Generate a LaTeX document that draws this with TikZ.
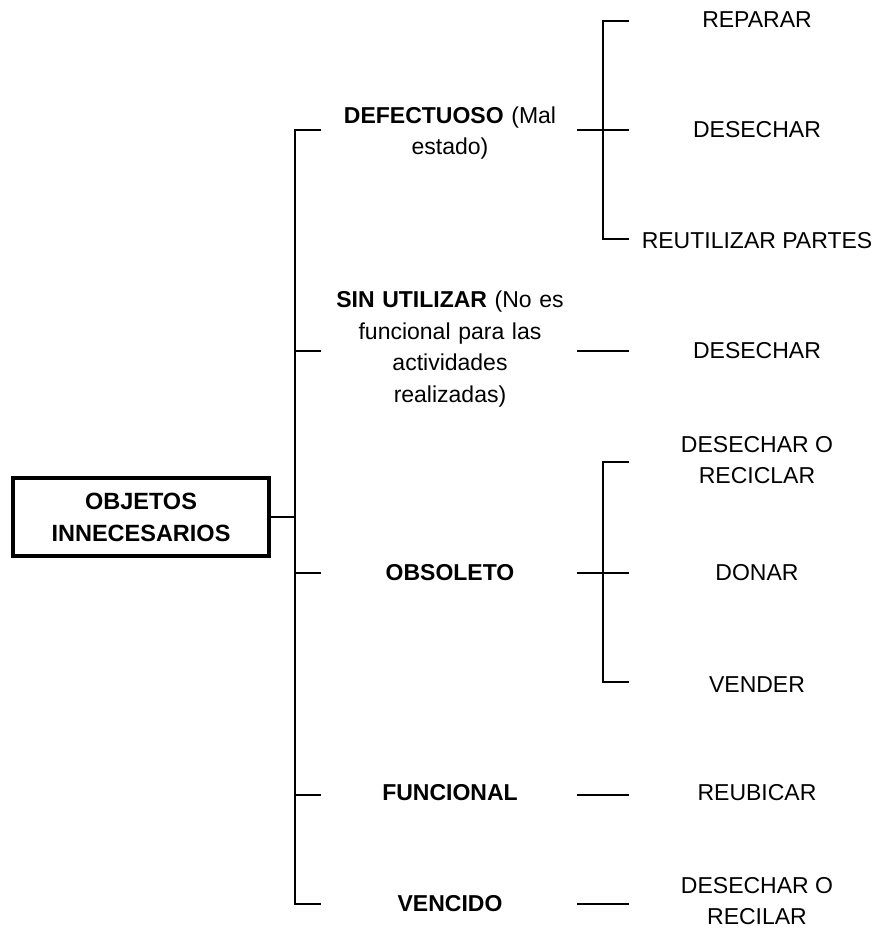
\documentclass[tikz,border=0pt]{standalone}
\usepackage{fontspec}
\setmainfont{Liberation Sans}
\begin{document}
\begin{tikzpicture}[x=1pt,y=-1pt,
  every node/.style={font=\fontsize{23}{31.5}\selectfont, inner sep=0pt},
  rootbox/.style={draw, line width=3.4pt, minimum width=256pt, minimum height=78pt, align=center, font=\fontsize{23.5}{32}\selectfont\bfseries},
  cat/.style={align=center, text width=270pt},
  act/.style={align=center},
  conn/.style={line width=2.8pt, line join=miter, line cap=rect}]
\useasboundingbox (0,0) rectangle (878,928);

% root
\node[rootbox] (root) at (141,517) {OBJETOS\\INNECESARIOS};

% categories
\node[cat] (def) at (450,133) {\textbf{DEFECTUOSO} (Mal\\estado)};
\node[cat] (sin) at (450,349) {\textbf{SIN UTILIZAR} (No es\\funcional para las\\actividades\\realizadas)};
\node[cat] (obs) at (450,573) {\textbf{OBSOLETO}};
\node[cat] (fun) at (450,793) {\textbf{FUNCIONAL}};
\node[cat] (ven) at (450,904) {\textbf{VENCIDO}};

% actions
\node[act] (a1) at (757,20) {REPARAR};
\node[act] (a2) at (757,130) {DESECHAR};
\node[act] (a3) at (757,241) {REUTILIZAR PARTES};
\node[act] (a4) at (757,351) {DESECHAR};
\node[act] (a5) at (757,460) {DESECHAR O\\RECICLAR};
\node[act] (a6) at (757,573) {DONAR};
\node[act] (a7) at (757,685) {VENDER};
\node[act] (a8) at (757,793) {REUBICAR};
\node[act] (a9) at (757,901) {DESECHAR O\\RECILAR};

% trunk coordinates
\coordinate (rj) at (295,517);
\coordinate (t1) at (295,130);
\coordinate (t2) at (295,351);
\coordinate (t3) at (295,573);
\coordinate (t4) at (295,795);
\coordinate (t5) at (295,904);
\coordinate (s1) at (320,130);
\coordinate (s2) at (320,351);
\coordinate (s3) at (320,573);
\coordinate (s4) at (320,795);
\coordinate (s5) at (320,904);

\draw[conn] (root.east) -- (rj);
\draw[conn] (s1) -- (t1) -- (t5) -- (s5);
\draw[conn] (t2) -- (s2);
\draw[conn] (t3) -- (s3);
\draw[conn] (t4) -- (s4);

% right side: defectuoso bracket
\coordinate (d0) at (578,130);
\coordinate (db1) at (603,21);
\coordinate (db3) at (603,239);
\coordinate (de1) at (628,21);
\coordinate (de2) at (628,130);
\coordinate (de3) at (628,239);
\draw[conn] (de1) -- (db1) -- (db3) -- (de3);
\draw[conn] (d0) -- (de2);

% sin utilizar
\coordinate (u0) at (578,351);
\coordinate (u1) at (628,351);
\draw[conn] (u0) -- (u1);

% obsoleto bracket
\coordinate (o0) at (578,573);
\coordinate (ob1) at (603,462);
\coordinate (ob3) at (603,682);
\coordinate (oe1) at (628,462);
\coordinate (oe2) at (628,573);
\coordinate (oe3) at (628,682);
\draw[conn] (oe1) -- (ob1) -- (ob3) -- (oe3);
\draw[conn] (o0) -- (oe2);

% funcional, vencido
\coordinate (f0) at (578,795);
\coordinate (f1) at (628,795);
\draw[conn] (f0) -- (f1);
\coordinate (v0) at (578,904);
\coordinate (v1) at (628,904);
\draw[conn] (v0) -- (v1);
\end{tikzpicture}
\end{document}
